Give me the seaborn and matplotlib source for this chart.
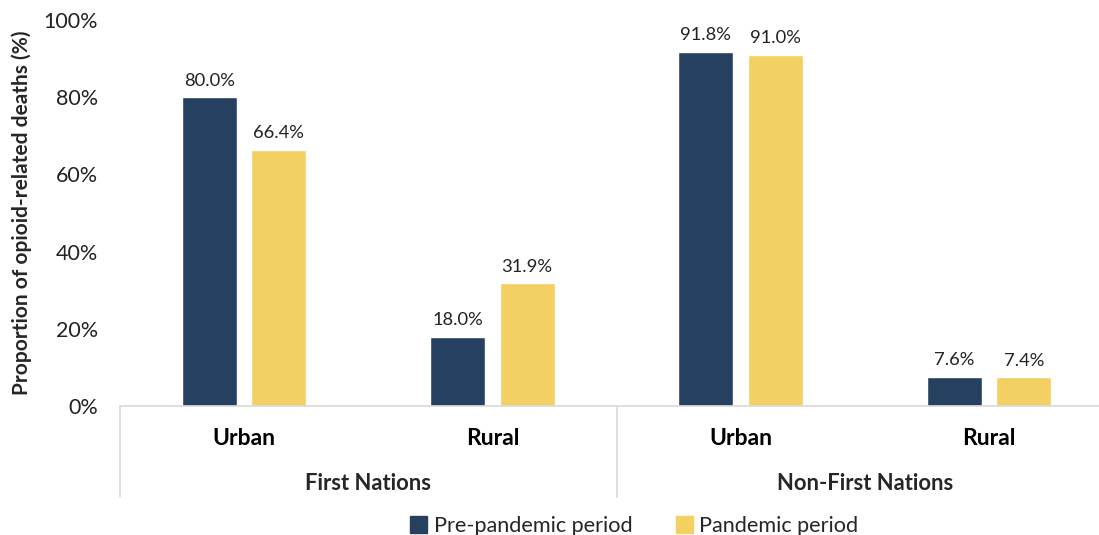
import pandas as pd
import seaborn as sns
import matplotlib.pyplot as plt
import matplotlib.transforms as mtransforms

populations = ['First Nations', 'First Nations', 'Non-First Nations', 'Non-First Nations']
areas = ['Urban', 'Rural', 'Urban', 'Rural']
pre_pandemic = [80.0, 18.0, 91.8, 7.6]
pandemic = [66.4, 31.9, 91.0, 7.4]
periods = ['Pre-pandemic period', 'Pandemic period']
colors = ['#26415F', '#F2D062']

rows = []
for i in range(len(areas)):
    rows.append({'cat': i, 'period': periods[0], 'value': pre_pandemic[i]})
    rows.append({'cat': i, 'period': periods[1], 'value': pandemic[i]})
df = pd.DataFrame(rows)

sns.set_style('white')
plt.rcParams['font.family'] = ['Lato', 'DejaVu Sans']

fig = plt.figure(figsize=(10.99, 5.35), dpi=100)
ax = fig.add_axes([0.1092, 0.2411, 0.9036, 0.7215])

sns.barplot(data=df, x='cat', y='value', hue='period', palette=colors,
            width=0.56, gap=0.21, ax=ax, legend=False, saturation=1)

for cont in ax.containers:
    ax.bar_label(cont, fmt='%.1f%%', padding=6, fontsize=13.2, color='#222222')

ax.set_ylim(0, 100)
ax.set_xlim(-0.5, 3.5)
ax.set_yticks([0, 20, 40, 60, 80, 100])
ax.set_yticklabels([f'{v}%' for v in range(0, 101, 20)], fontsize=15.5, color='#222222')
ax.set_xticks(range(len(areas)))
ax.set_xticklabels(areas, fontsize=16.5, fontweight='bold', color='black')
ax.tick_params(axis='x', length=0, pad=16)
ax.tick_params(axis='y', length=0, pad=16)
ax.set_xlabel('')
ax.set_ylabel('Proportion of opioid-related deaths (%)', fontsize=15,
              fontweight='bold', labelpad=8)

for side in ['top', 'right', 'left']:
    ax.spines[side].set_visible(False)
ax.spines['bottom'].set_color('#D9D9D9')
ax.spines['bottom'].set_linewidth(1.2)

trans = mtransforms.blended_transform_factory(ax.transData, ax.transAxes)
for xs in [-0.5, 1.5, 3.5]:
    ax.plot([xs, xs], [0, -0.236], transform=trans, color='#D9D9D9',
            linewidth=1.2, clip_on=False)
for xc, name in [(0.5, populations[0]), (2.5, populations[2])]:
    ax.text(xc, -0.2, name, transform=trans, ha='center', va='center',
            fontsize=15.8, fontweight='bold')

handles = [plt.Rectangle((0, 0), 1, 1, color=c) for c in colors]
fig.legend(handles, periods, loc='center', bbox_to_anchor=(0.577, 0.017),
           ncol=2, frameon=False, fontsize=15.6, handlelength=0.8,
           handleheight=0.8, handletextpad=0.3, columnspacing=2.0)

fig.savefig('out.png', dpi=100)
